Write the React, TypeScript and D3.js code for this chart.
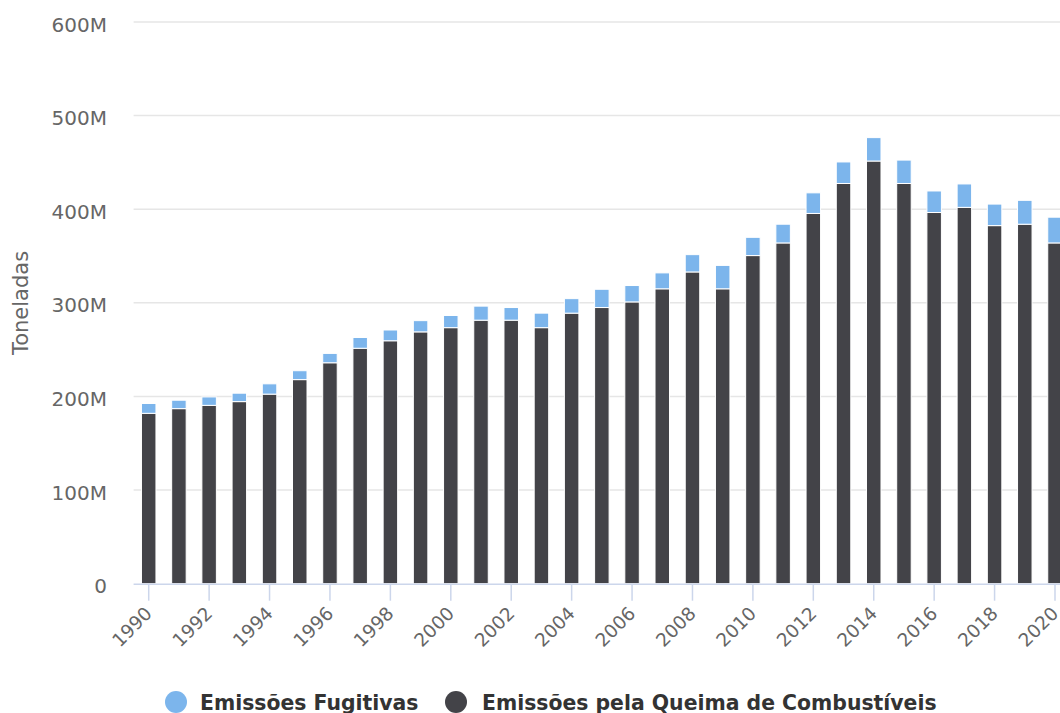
import React from "react";
import * as d3 from "d3";

// Emissões por ano (milhões de toneladas)
const years: number[] = d3.range(1990, 2021);
const combustiveis: number[] = [
  182, 187, 190.5, 194.5, 202.5, 218, 236, 251.5, 259.5, 269, 273.5,
  281.5, 281.5, 273.5, 289, 295, 301, 315, 333, 315, 350.5, 364, 395.5,
  427.5, 451.5, 427.5, 396.5, 402, 382.5, 384, 364,
];
const fugitivas: number[] = [
  10.5, 9, 9, 9, 11, 9.5, 10, 11.5, 11.5, 12, 13, 15, 13.5, 15.5, 15.5,
  19.5, 17.5, 17, 18.5, 25, 19.5, 20, 22, 23, 25, 25, 23, 25, 23, 25.5, 27.5,
];
const yTicks: number[] = [0, 100, 200, 300, 400, 500, 600];
const xTickYears: number[] = years.filter((y) => y % 2 === 0);

const seriesNames = ["Emissões Fugitivas", "Emissões pela Queima de Combustíveis"];
const colors = ["#7cb5ec", "#434348"];

const W = 1060;
const H = 713;
const plotLeft = 133.6;
const plotRight = 1070.1;
const plotTop = 22;
const plotBottom = 583.7;
const font = "'DejaVu Sans', 'Open Sans', sans-serif";

export default function App() {
  const x = d3.scaleBand<number>().domain(years).range([plotLeft, plotRight]).padding(0);
  const y = d3.scaleLinear().domain([0, 600]).range([plotBottom, plotTop]);
  const barW = 14.5;
  const fmt = (v: number) => (v === 0 ? "0" : `${v}M`);

  return (
    <svg
      width={W}
      height={H}
      style={{ position: "absolute", left: 0, top: 0, background: "#fff" }}
      fontFamily={font}
    >
      <rect x={0} y={0} width={W} height={H} fill="#fff" />
      {/* grid */}
      {yTicks.map((t) =>
        t === 0 ? null : (
          <line key={t} x1={plotLeft} x2={plotRight} y1={y(t)} y2={y(t)} stroke="#e6e6e6" strokeWidth={1.5} />
        )
      )}
      {/* y labels */}
      {yTicks.map((t) => (
        <text key={t} x={107} y={y(t) + 9.5} textAnchor="end" fontSize={20} fill="#666">
          {fmt(t)}
        </text>
      ))}
      <text
        transform={`translate(28, 303) rotate(-90)`}
        textAnchor="middle"
        fontSize={21}
        fill="#666"
      >
        Toneladas
      </text>
      {/* bars */}
      {years.map((yr, i) => {
        const cx = (x(yr) as number) + x.bandwidth() / 2;
        const f = combustiveis[i];
        const g = fugitivas[i];
        return (
          <g key={yr}>
            <rect
              x={cx - barW / 2}
              y={y(f)}
              width={barW}
              height={y(0) - y(f)}
              fill={colors[1]}
              stroke="#fff"
              strokeWidth={1}
            />
            <rect
              x={cx - barW / 2}
              y={y(f + g)}
              width={barW}
              height={y(f) - y(f + g)}
              fill={colors[0]}
              stroke="#fff"
              strokeWidth={1}
            />
          </g>
        );
      })}
      {/* x axis */}
      <line x1={plotLeft} x2={plotRight} y1={plotBottom + 0.5} y2={plotBottom + 0.5} stroke="#ccd6eb" strokeWidth={1.5} />
      {xTickYears.map((yr) => {
        const cx = (x(yr) as number) + x.bandwidth() / 2;
        return (
          <g key={yr}>
            <line x1={cx} x2={cx} y1={plotBottom} y2={plotBottom + 17} stroke="#ccd6eb" strokeWidth={1.5} />
            <text
              transform={`translate(${cx + 4.5}, ${plotBottom + 31}) rotate(-45)`}
              textAnchor="end"
              fontSize={18.5}
              fill="#666"
            >
              {yr}
            </text>
          </g>
        );
      })}
      {/* legend */}
      <circle cx={176} cy={702} r={11} fill={colors[0]} />
      <text x={200} y={709.5} fontSize={20.4} fontWeight="bold" fill="#333">
        {seriesNames[0]}
      </text>
      <circle cx={456} cy={702} r={11} fill={colors[1]} />
      <text x={482} y={709.5} fontSize={20.4} fontWeight="bold" fill="#333">
        {seriesNames[1]}
      </text>
    </svg>
  );
}
